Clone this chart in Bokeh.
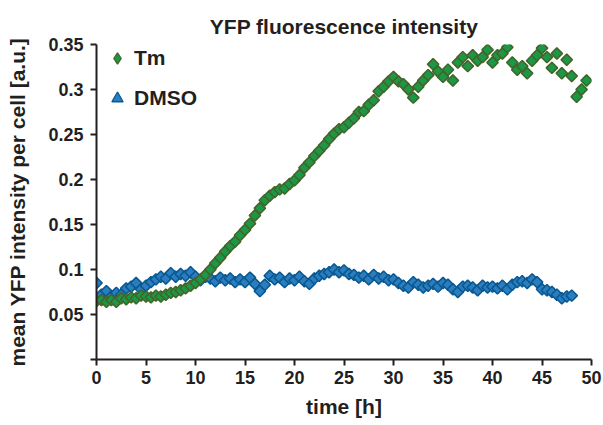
import numpy as np
from bokeh.plotting import figure
from bokeh.models import Range1d, FixedTicker, Legend, LegendItem, ColumnDataSource
from bokeh.embed import file_html
from bokeh.resources import INLINE

time_tm_h = [0, 0.5, 1, 1.5, 2, 2.5, 3, 3.5, 4, 4.5, 5, 5.5, 6, 6.5, 7, 7.5, 8, 8.5, 9, 9.5,
             10, 10.5, 11, 11.5, 12, 12.5, 13, 13.5, 14, 14.5, 15, 15.5, 16, 16.5, 17, 17.5, 18, 18.5, 19, 19.5,
             20, 20.5, 21, 21.5, 22, 22.5, 23, 23.5, 24, 24.5, 25, 25.5, 26, 26.5, 27, 27.5, 28, 28.5, 29, 29.5,
             30, 30.5, 31, 31.5, 32, 32.5, 33, 33.5, 34, 34.5, 35, 35.5, 36, 36.5, 37, 37.5, 38, 38.5, 39, 39.5,
             40, 40.5, 41, 41.5, 42, 42.5, 43, 43.5, 44, 44.5, 45, 45.5, 46, 46.5, 47, 47.5, 48, 48.5, 49, 49.5]
tm_values = [0.065, 0.066, 0.064, 0.066, 0.064, 0.068, 0.067, 0.069, 0.068, 0.071,
             0.070, 0.069, 0.071, 0.070, 0.072, 0.074, 0.075, 0.077, 0.079, 0.082,
             0.085, 0.089, 0.094, 0.100, 0.107, 0.113, 0.120, 0.126, 0.131, 0.138,
             0.144, 0.151, 0.160, 0.168, 0.177, 0.182, 0.186, 0.189, 0.190, 0.195,
             0.199, 0.205, 0.213, 0.219, 0.226, 0.232, 0.238, 0.245, 0.251, 0.256,
             0.258, 0.263, 0.268, 0.275, 0.276, 0.283, 0.288, 0.298, 0.303, 0.309,
             0.314, 0.309, 0.306, 0.300, 0.291, 0.303, 0.310, 0.316, 0.328, 0.320,
             0.314, 0.322, 0.310, 0.330, 0.336, 0.326, 0.338, 0.332, 0.336, 0.344,
             0.330, 0.338, 0.340, 0.347, 0.330, 0.322, 0.326, 0.318, 0.332, 0.338,
             0.346, 0.336, 0.324, 0.340, 0.318, 0.333, 0.315, 0.292, 0.300, 0.310]

time_dmso_h = [0, 0.5, 1, 1.5, 2, 2.5, 3, 3.5, 4, 4.5, 5, 5.5, 6, 6.5, 7, 7.5, 8, 8.5, 9, 9.5,
               10, 10.5, 11, 11.5, 12, 12.5, 13, 13.5, 14, 14.5, 15, 15.5, 16, 16.5, 17, 17.5, 18, 18.5, 19, 19.5,
               20, 20.5, 21, 21.5, 22, 22.5, 23, 23.5, 24, 24.5, 25, 25.5, 26, 26.5, 27, 27.5, 28, 28.5, 29, 29.5,
               30, 30.5, 31, 31.5, 32, 32.5, 33, 33.5, 34, 34.5, 35, 35.5, 36, 36.5, 37, 37.5, 38, 38.5, 39, 39.5,
               40, 40.5, 41, 41.5, 42, 42.5, 43, 43.5, 44, 44.5, 45, 45.5, 46, 46.5, 47, 47.5, 48]
dmso_values = [0.085, 0.072, 0.076, 0.070, 0.074, 0.072, 0.079, 0.081, 0.085, 0.078,
               0.082, 0.086, 0.089, 0.092, 0.090, 0.096, 0.092, 0.095, 0.093, 0.097,
               0.092, 0.088, 0.092, 0.090, 0.087, 0.091, 0.088, 0.090, 0.086, 0.089,
               0.086, 0.091, 0.084, 0.076, 0.083, 0.093, 0.089, 0.091, 0.086, 0.090,
               0.088, 0.092, 0.087, 0.084, 0.090, 0.093, 0.095, 0.097, 0.100, 0.097,
               0.099, 0.095, 0.094, 0.091, 0.093, 0.089, 0.094, 0.090, 0.092, 0.088,
               0.089, 0.085, 0.082, 0.080, 0.086, 0.083, 0.080, 0.082, 0.084, 0.081,
               0.085, 0.083, 0.078, 0.075, 0.081, 0.082, 0.080, 0.077, 0.082, 0.080,
               0.081, 0.079, 0.082, 0.078, 0.083, 0.086, 0.087, 0.085, 0.089, 0.086,
               0.078, 0.077, 0.075, 0.072, 0.068, 0.070, 0.071]

x_ticks = [0, 5, 10, 15, 20, 25, 30, 35, 40, 45, 50]
y_ticks = [0, 0.05, 0.1, 0.15, 0.2, 0.25, 0.3, 0.35]
y_tick_labels = {0: "", 0.05: "0.05", 0.1: "0.1", 0.15: "0.15", 0.2: "0.2", 0.25: "0.25", 0.3: "0.3", 0.35: "0.35"}

FONT = "Liberation Sans"
TXT = "#231f20"
TM_FILL, TM_LINE = "#1a9848", "#456428"
DM_FILL, DM_LINE = "#2a7ebf", "#0a5890"

p = figure(width=603, height=425, output_backend="svg", toolbar_location=None,
           x_range=Range1d(0, 50), y_range=Range1d(0, 0.35),
           min_border_left=96, min_border_right=12, min_border_top=44, min_border_bottom=66)
p.outline_line_color = None
p.xgrid.visible = False
p.ygrid.visible = False

p.title.text = "YFP fluorescence intensity"
p.title.align = "center"
p.title.text_font = FONT
p.title.text_font_size = "21px"
p.title.text_font_style = "bold"
p.title.text_color = TXT
p.title.standoff = 14

for ax in (p.xaxis[0], p.yaxis[0]):
    ax.axis_line_color = TXT
    ax.axis_line_width = 2
    ax.major_tick_line_color = TXT
    ax.major_tick_line_width = 2
    ax.major_tick_in = 0
    ax.major_tick_out = 6
    ax.minor_tick_line_color = None
    ax.major_label_text_font = FONT
    ax.major_label_text_font_size = "18px"
    ax.major_label_text_font_style = "bold"
    ax.major_label_text_color = TXT
    ax.axis_label_text_font = FONT
    ax.axis_label_text_font_size = "21px"
    ax.axis_label_text_font_style = "bold"
    ax.axis_label_text_color = TXT

p.xaxis.ticker = FixedTicker(ticks=x_ticks)
p.yaxis.ticker = FixedTicker(ticks=y_ticks)
p.yaxis.major_label_overrides = y_tick_labels
p.xaxis.axis_label = "time [h]"
p.yaxis.axis_label = "mean YFP intensity per cell [a.u.]"
p.xaxis.major_label_standoff = 5
p.yaxis.major_label_standoff = 7
p.xaxis.axis_label_standoff = 8
p.yaxis.axis_label_standoff = 16

dmso_src = ColumnDataSource(dict(t=time_dmso_h, v=dmso_values))
tm_src = ColumnDataSource(dict(t=time_tm_h, v=tm_values))

r_dmso = p.scatter("t", "v", source=dmso_src, marker="square", angle=np.pi / 4, size=8,
                   fill_color=DM_FILL, line_color=DM_LINE, line_width=1.6)
r_tm = p.scatter("t", "v", source=tm_src, marker="square", angle=np.pi / 4, size=8,
                 fill_color=TM_FILL, line_color=TM_LINE, line_width=1.6)

# legend-only renderers (hidden) to get the reference's legend icons
leg_tm = p.scatter("t", "v", source=tm_src, marker="diamond", visible=False,
                   fill_color=TM_FILL, line_color=TM_LINE, line_width=1.3)
leg_dmso = p.scatter("t", "v", source=dmso_src, marker="triangle", visible=False,
                     fill_color=DM_FILL, line_color=DM_LINE, line_width=1.3)

legend = Legend(items=[LegendItem(label="Tm", renderers=[leg_tm], index=0),
                       LegendItem(label="DMSO", renderers=[leg_dmso], index=0)],
                location=(6, 247), padding=0, margin=0, spacing=12,
                glyph_width=30, glyph_height=28, label_height=28, label_width=70,
                label_standoff=2,
                background_fill_alpha=0, border_line_color=None,
                inactive_fill_alpha=0,
                label_text_font=FONT, label_text_font_size="21px",
                label_text_font_style="bold", label_text_color=TXT)
p.add_layout(legend)

open("out.html", "w").write(file_html(p, INLINE))
